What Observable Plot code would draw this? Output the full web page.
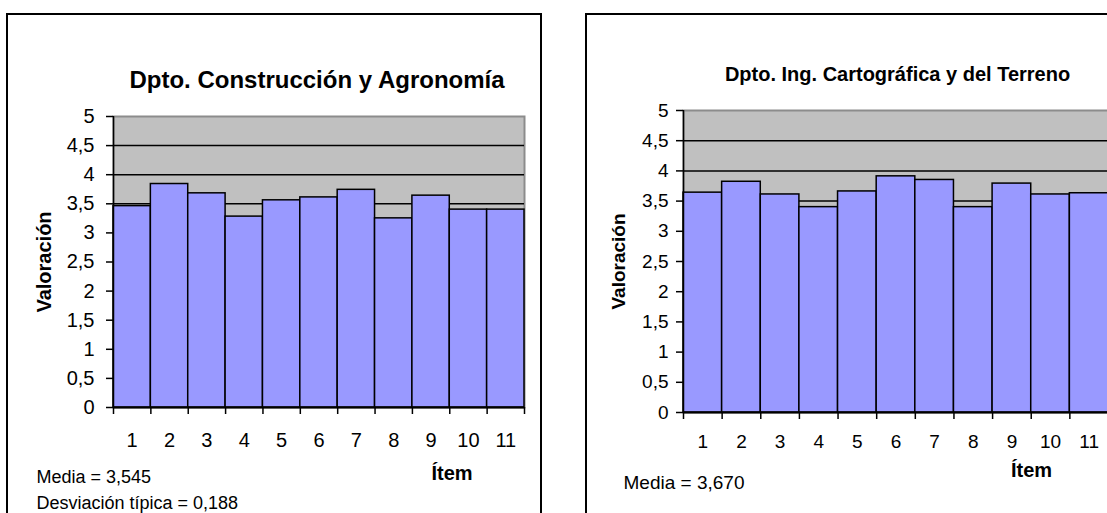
<!DOCTYPE html>
<html>
<head>
<meta charset="utf-8">
<script src="https://cdn.jsdelivr.net/npm/d3@7"></script>
<script src="https://cdn.jsdelivr.net/npm/@observablehq/plot@0.6"></script>
<style>
  html, body { margin: 0; padding: 0; background: #fff; }
  body { width: 1107px; height: 513px; overflow: hidden; position: relative; font-family: "Liberation Sans", Arial, sans-serif; }
  .box { position: absolute; border: 2px solid #000; box-sizing: border-box; }
  .panel { position: absolute; top: 0; }
  .panel svg { max-width: none !important; }
</style>
</head>
<body>
<div class="box" style="left:6px; top:13px; width:536px; height:540px;"></div>
<div class="box" style="left:585px; top:13px; width:600px; height:540px;"></div>
<div id="c1" class="panel" style="left:0px; width:541px;"></div>
<div id="c2" class="panel" style="left:560px; width:560px;"></div>
<script>
// ---- data ----
const items = [1, 2, 3, 4, 5, 6, 7, 8, 9, 10, 11];
const valoresConstruccion = [3.46, 3.84, 3.68, 3.28, 3.56, 3.61, 3.74, 3.25, 3.64, 3.40, 3.40];
const valoresCartografica = [3.64, 3.82, 3.61, 3.40, 3.66, 3.91, 3.85, 3.40, 3.79, 3.61, 3.63];
const yTicks = [0, 0.5, 1, 1.5, 2, 2.5, 3, 3.5, 4, 4.5, 5];
const titulos = ["Dpto. Construcción y Agronomía", "Dpto. Ing. Cartográfica y del Terreno"];
const etiquetaY = "Valoración";
const etiquetaX = "Ítem";
const mediaTextos = ["Media = 3,545", "Media = 3,670"];
const desviacionTexto = "Desviación típica = 0,188";

const fmt = d => String(d).replace(".", ",");
const boundaries = items.map(i => i - 0.5).concat([items[items.length - 1] + 0.5]);
const gridTicks = yTicks.filter(t => t > yTicks[0] && t < yTicks[yTicks.length - 1]);
const FONT = "'Liberation Sans', Arial, sans-serif";

function chart(values, o) {
  const data = items.map((item, i) => ({item, value: values[i]}));
  const T = {fontFamily: FONT, lineAnchor: "middle"};
  const marks = [
    Plot.frame({fill: "#c0c0c0", stroke: "#8c8c8c", strokeWidth: 2}),
    Plot.ruleY(gridTicks, {stroke: "#000", strokeWidth: 1.5}),
    Plot.rectY(data, {x1: d => d.item - 0.5, x2: d => d.item + 0.5, y: "value", fill: "#9999ff", stroke: "#000", strokeWidth: 1.5}),
    Plot.ruleX([boundaries[0]], {stroke: "#000", strokeWidth: 1.5}),
    Plot.ruleY([0], {stroke: "#000", strokeWidth: 2}),
    Plot.axisY({ticks: yTicks, tickFormat: () => "", tickSize: 7, label: null, strokeWidth: 1.5}),
    Plot.axisX({ticks: boundaries, tickFormat: () => "", tickSize: 7, label: null, strokeWidth: 1.5}),
    // tick labels
    Plot.text(yTicks, {...T, x: boundaries[0], y: d => d, text: fmt, textAnchor: "end", dx: o.yLabDx, fontSize: o.tickFont}),
    Plot.text(items, {...T, x: d => d, y: yTicks[0], text: d => String(d), dy: o.xLabDy, fontSize: o.tickFont}),
    // titles and labels
    Plot.text([o.title], {...T, text: d => d, frameAnchor: "top", textAnchor: "middle", dx: o.titleDx, dy: -36, fontSize: o.titleSize, fontWeight: "bold"}),
    Plot.text([etiquetaY], {...T, text: d => d, frameAnchor: "left", textAnchor: "middle", dx: o.ylDx, rotate: -90, fontSize: o.ylSize, fontWeight: "bold"}),
    Plot.text([etiquetaX], {...T, text: d => d, frameAnchor: "bottom", textAnchor: "middle", dx: o.xlDx, dy: o.xlDy, fontSize: 20, fontWeight: "bold"}),
    Plot.text([o.media], {...T, text: d => d, frameAnchor: "bottom-left", textAnchor: "start", dx: o.mDx, dy: o.mDy, fontSize: o.mSize})
  ];
  if (o.extra) marks.push(Plot.text([o.extra], {...T, text: d => d, frameAnchor: "bottom-left", textAnchor: "start", dx: o.mDx, dy: o.mDy + 26, fontSize: o.mSize}));
  return Plot.plot({
    width: o.width,
    height: 513,
    marginLeft: o.ml, marginRight: o.mr, marginTop: o.mt, marginBottom: o.mb,
    x: {type: "linear", domain: [boundaries[0], boundaries[boundaries.length - 1]]},
    y: {domain: [yTicks[0], yTicks[yTicks.length - 1]]},
    style: {background: "transparent", fontFamily: FONT, color: "#000", overflow: "visible", maxWidth: "none"},
    marks
  });
}

document.getElementById("c1").append(chart(valoresConstruccion, {
  width: 541, ml: 113, mr: 17, mt: 116, mb: 106,
  yLabDx: -19, xLabDy: 33, tickFont: 20,
  title: titulos[0], titleSize: 24, titleDx: -2,
  ylDx: -69, ylSize: 20,
  xlDx: 133, xlDy: 66,
  media: mediaTextos[0], mDx: -77, mDy: 70, mSize: 18,
  extra: desviacionTexto
}));

document.getElementById("c2").append(chart(valoresCartografica, {
  width: 560, ml: 123, mr: 12, mt: 110, mb: 101,
  yLabDx: -15, xLabDy: 29.5, tickFont: 19,
  title: titulos[1], titleSize: 20, titleDx: 1.5,
  ylDx: -65, ylSize: 19,
  xlDx: 135.5, xlDy: 58,
  media: mediaTextos[1], mDx: -60, mDy: 70, mSize: 19
}));
</script>
</body>
</html>
